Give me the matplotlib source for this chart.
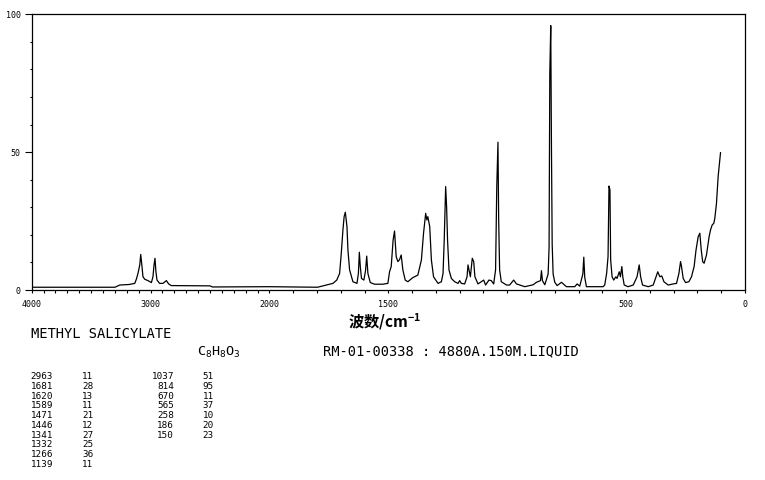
import numpy as np
import matplotlib
matplotlib.use("Agg")
import matplotlib.pyplot as plt
from matplotlib.ticker import FixedLocator, MultipleLocator

# spectrum trace (wavenumber / cm-1, relative intensity)
wavenumber = [
    4000, 3300, 3259, 3180, 3133, 3119, 3105, 3091, 3083, 3075, 3064, 3049, 3022,
    2993, 2980, 2971, 2963, 2955, 2946, 2924, 2896, 2867, 2848, 2826, 2500, 2480,
    2000, 1798, 1761, 1733, 1717, 1705, 1698, 1691, 1686, 1681, 1674, 1670, 1663,
    1649, 1632, 1626, 1622, 1618, 1613, 1603, 1596, 1591, 1586, 1576, 1558, 1523,
    1502, 1495, 1488, 1480, 1474, 1467, 1460, 1453, 1446, 1439, 1429, 1418, 1397,
    1376, 1361, 1352, 1343, 1338, 1334, 1326, 1319, 1310, 1291, 1277, 1270, 1265,
    1259, 1255, 1251, 1245, 1235, 1221, 1207, 1200, 1193, 1179, 1169, 1165, 1161,
    1155, 1147, 1141, 1136, 1123, 1109, 1099, 1091, 1077, 1067, 1057, 1049, 1044,
    1039, 1036, 1032, 1025, 1003, 990, 973, 961, 926, 891, 877, 860, 856, 852, 842,
    828, 824, 821, 817, 814, 811, 807, 800, 790, 772, 751, 716, 706, 695, 682, 678,
    674, 667, 597, 590, 582, 576, 572, 568, 565, 559, 552, 543, 538, 529, 524, 518,
    514, 508, 492, 470, 454, 445, 439, 431, 407, 386, 374, 367, 358, 350, 341, 323,
    302, 288, 278, 271, 267, 260, 250, 236, 225, 214, 206, 197, 190, 184, 178, 172,
    162, 151, 145, 138, 131, 127, 120, 113, 106, 103,
]
intensity = [
    1.0, 1.0, 1.8, 2.0, 2.4, 4.0, 6.2, 9.1, 12.9, 9.7, 4.8, 3.9, 3.4,
    2.7, 4.8, 9.1, 11.5, 6.6, 3.6, 2.4, 2.4, 3.4, 2.2, 1.6, 1.5, 1.1,
    1.2, 1.0, 1.8, 2.4, 3.6, 6.0, 13.3, 21.8, 26.6, 28.2, 23.0, 14.5, 7.3,
    3.0, 2.4, 6.0, 13.7, 8.5, 4.2, 3.6, 7.0, 12.3, 6.0, 2.7, 2.1, 2.1,
    2.4, 6.6, 8.5, 18.1, 21.4, 12.1, 10.3, 11.0, 12.7, 7.3, 3.6, 3.0, 4.5,
    5.4, 10.9, 20.6, 27.8, 25.4, 26.6, 23.0, 10.9, 4.8, 2.4, 3.0, 6.0, 18.1,
    37.5, 30.2, 18.1, 7.3, 4.2, 3.0, 2.4, 3.4, 2.4, 2.2, 4.8, 9.1, 7.3,
    4.8, 11.5, 10.3, 4.8, 2.2, 3.0, 3.6, 1.8, 3.6, 3.4, 2.2, 7.3, 37.5,
    53.6, 25.4, 7.3, 3.0, 1.8, 1.8, 3.6, 2.2, 1.2, 1.9, 2.8, 3.4, 7.0, 3.4, 1.9,
    5.8, 15.5, 78.3, 95.9, 51.8, 16.7, 5.8, 2.8, 1.6, 2.8, 1.2, 1.2, 2.2, 1.4, 5.8, 11.9,
    4.6, 1.2, 1.2, 1.8, 6.0, 12.1, 37.7, 36.3, 10.9, 4.8, 3.6, 4.8, 4.2, 6.6, 4.8, 8.5,
    4.8, 1.8, 1.2, 1.8, 4.8, 9.1, 4.8, 1.8, 1.2, 1.8, 4.8, 6.6, 4.8, 5.1, 3.0, 1.8,
    2.2, 2.4, 6.0, 10.3, 8.5, 4.2, 2.7, 3.0, 4.8, 8.5, 14.5, 19.3, 20.6, 14.5, 10.3, 9.7,
    12.7, 19.3, 21.8, 23.6, 24.2, 26.0, 31.4, 41.1, 47.2, 49.8,
]

# peak table printed under the chart
table_wn_a = ["2963", "1681", "1620", "1589", "1471", "1446", "1341", "1332", "1266", "1139"]
table_int_a = ["11", "28", "13", "11", "21", "12", "27", "25", "36", "11"]
table_wn_b = ["1037", "814", "670", "565", "258", "186", "150"]
table_int_b = ["51", "95", "11", "37", "10", "20", "23"]

x_major = [4000, 3000, 2000, 1500, 500, 0]
y_major = [0, 50, 100]

W, H = 765, 480
MONO = "DejaVu Sans Mono"
plt.rcParams["mathtext.default"] = "regular"


def fwd(w):
    # 4000-2000 drawn at half the scale of 2000-0
    w = np.asarray(w, dtype=float)
    return np.where(w > 2000, 2000 + (w - 2000) / 2, w)


def inv(u):
    u = np.asarray(u, dtype=float)
    return np.where(u > 2000, 2000 + (u - 2000) * 2, u)


def px(x, y):
    return x / W, 1 - y / H


fig = plt.figure(figsize=(W / 100, H / 100), dpi=100)
ax = fig.add_axes([31.7 / W, 1 - 290 / H, (745 - 31.7) / W, (290 - 14.3) / H])
ax.set_xscale("function", functions=(fwd, inv))
ax.plot(wavenumber, intensity, color="black", lw=0.9)
ax.set_xlim(4000, 0)
ax.set_ylim(0, 100)

ax.xaxis.set_major_locator(FixedLocator(x_major))
ax.xaxis.set_minor_locator(MultipleLocator(100))
ax.set_xticklabels([str(v) for v in x_major])
ax.yaxis.set_major_locator(FixedLocator(y_major))
ax.yaxis.set_minor_locator(MultipleLocator(10))
ax.set_yticklabels([str(v) for v in y_major])
ax.tick_params(axis="x", which="both", direction="out", length=2.2, width=0.8,
               labelsize=6, pad=5)
ax.tick_params(axis="y", which="major", direction="out", length=5, width=0.8,
               labelsize=6, pad=3)
ax.tick_params(axis="y", which="minor", direction="out", length=1.8, width=0.8)
for lab in ax.get_xticklabels() + ax.get_yticklabels():
    lab.set_family(MONO)
for s in ax.spines.values():
    s.set_linewidth(0.9)

# axis title
fig.text(*px(385, 322), "波数/cm$^{-1}$", ha="center", va="center", fontsize=11,
         fontweight="bold", family=["Noto Sans CJK SC", "DejaVu Sans"])

# header lines
fig.text(*px(31, 334), "METHYL SALICYLATE", ha="left", va="center",
         fontsize=9.9, family=MONO)
fig.text(*px(197, 352), "C$_8$H$_8$O$_3$", ha="left", va="center",
         fontsize=9.7, family=MONO)
fig.text(*px(323, 351), "RM-01-00338 : 4880A.150M.LIQUID", ha="left",
         va="center", fontsize=9.9, family=MONO)

# peak table
row0, dy = 376.7, 9.73
for i, (a, b) in enumerate(zip(table_wn_a, table_int_a)):
    fig.text(*px(53.3, row0 + i * dy), a, ha="right", va="center", fontsize=6.7, family=MONO)
    fig.text(*px(93.3, row0 + i * dy), b, ha="right", va="center", fontsize=6.7, family=MONO)
for i, (a, b) in enumerate(zip(table_wn_b, table_int_b)):
    fig.text(*px(174, row0 + i * dy), a, ha="right", va="center", fontsize=6.7, family=MONO)
    fig.text(*px(214, row0 + i * dy), b, ha="right", va="center", fontsize=6.7, family=MONO)

fig.savefig("out.png", dpi=100)
